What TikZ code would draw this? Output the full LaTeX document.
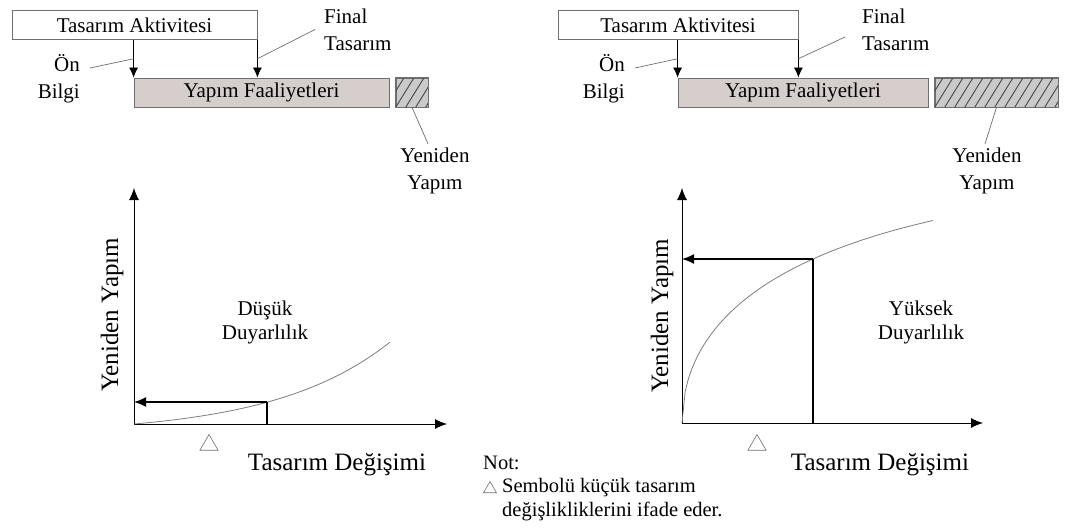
\documentclass[tikz,border=0pt]{standalone}
\usepackage{fontspec}
\setmainfont{Liberation Serif}
\usepackage{tikz}
\usetikzlibrary{shapes.geometric}
\usetikzlibrary{arrows.meta}
\usetikzlibrary{positioning}
\definecolor{boxline}{RGB}{110,110,110}
\definecolor{buildfill}{RGB}{214,206,204}
\definecolor{hatchfill}{RGB}{202,202,202}
\definecolor{hatchline}{RGB}{70,70,70}
\definecolor{curvecol}{RGB}{125,125,125}
\tikzstyle{tag} = [inner sep=0pt, font=\fontsize{21}{27}\selectfont]
\tikzstyle{every bar} = [draw=boxline, line width=0.8pt, minimum height=29pt, inner sep=0pt, font=\fontsize{21}{27}\selectfont]
\tikzstyle{activity} = [rectangle, fill=white, every bar]
\tikzstyle{building} = [rectangle, fill=buildfill, every bar]
\tikzstyle{rework} = [rectangle, fill=hatchfill, every bar]
\tikzstyle{hatch} = [draw=hatchline, line width=0.9pt]
\tikzstyle{flow} = [draw, line width=0.8pt, -{Latex[length=10pt,width=9pt]}]
\tikzstyle{leader} = [draw=boxline, line width=0.7pt]
\tikzstyle{axis} = [draw, line width=0.9pt, -{Latex[length=12pt,width=10pt]}]
\tikzstyle{readoff} = [draw, line width=1.5pt, -{Latex[length=12pt,width=10pt]}]
\tikzstyle{guide} = [draw, line width=1.2pt]
\tikzstyle{curve} = [draw=curvecol, line width=0.8pt]
\tikzstyle{axis title} = [inner sep=0pt, font=\fontsize{25}{30}\selectfont]
\tikzstyle{zone} = [inner sep=0pt, align=center, font=\fontsize{21}{24}\selectfont]
\tikzstyle{marker} = [regular polygon, regular polygon sides=3, draw=boxline, line width=0.6pt, minimum size=21pt, inner sep=0pt]
\tikzstyle{note text} = [inner sep=0pt, font=\fontsize{20.5}{24}\selectfont]

\begin{document}
\begin{tikzpicture} [x=1pt, y=-1pt]

\useasboundingbox (0,0) rectangle (1074,532);

% Low sensitivity: schedule

\node[activity, minimum width=245pt] (designL) at (134.5,25) {Tasarım Aktivitesi};

\node[building, minimum width=255pt] (buildL) at (261.5,92.5) {Yapım Faaliyetleri};

\node[rework, minimum width=32pt] (reworkL) at (412,92.5) {};
\begin{scope}
\clip (reworkL.south west) rectangle (reworkL.north east);
\foreach \s in {-20,-10,...,40} \draw[hatch] ([xshift=\s pt]reworkL.south west) -- ++(18pt,29pt);
\end{scope}
\draw[draw=boxline, line width=0.8pt] (reworkL.south west) rectangle (reworkL.north east);

\draw[flow] (designL.south -| buildL.north west) -- coordinate[midway] (preArrL) (buildL.north west);
\draw[flow] (designL.south east) -- coordinate[midway] (finArrL) (designL.south east |- buildL.north);

\node[tag, align=right, anchor=east] (preL) at (80,79) {Ön\\Bilgi};
\node[tag, align=left, anchor=west] (finalL) at (324,29.5) {Final\\Tasarım};
\node[tag, align=center] (reyL) at (435,171) {Yeniden\\Yapım};

\draw[leader] ([xshift=10pt,yshift=11pt]preL.east) -- (preArrL);
\draw[leader] (finArrL) -- ([xshift=-9pt]finalL.west);
\draw[leader] (reworkL.south) -- ([xshift=-7pt,yshift=4pt]reyL.north);

% High sensitivity: schedule

\node[activity, minimum width=240pt] (designR) at (678,25) {Tasarım Aktivitesi};

\node[building, minimum width=250pt] (buildR) at (803,92.5) {Yapım Faaliyetleri};

\node[rework, minimum width=123pt] (reworkR) at (996.5,92.5) {};
\begin{scope}
\clip (reworkR.south west) rectangle (reworkR.north east);
\foreach \s in {-20,-10,...,130} \draw[hatch] ([xshift=\s pt]reworkR.south west) -- ++(18pt,29pt);
\end{scope}
\draw[draw=boxline, line width=0.8pt] (reworkR.south west) rectangle (reworkR.north east);

\draw[flow] (designR.south -| buildR.north west) -- coordinate[midway] (preArrR) (buildR.north west);
\draw[flow] (designR.south east) -- coordinate[midway] (finArrR) (designR.south east |- buildR.north);

\node[tag, align=right, anchor=east] (preR) at (625,79) {Ön\\Bilgi};
\node[tag, align=left, anchor=west] (finalR) at (862,29.5) {Final\\Tasarım};
\node[tag, align=center] (reyR) at (987,171) {Yeniden\\Yapım};

\draw[leader] ([xshift=10pt,yshift=11pt]preR.east) -- (preArrR);
\draw[leader] (finArrR) -- ([xshift=-17pt,yshift=-7.5pt]finalR.west);
\draw[leader] (reworkR.south) -- ([xshift=-2pt,yshift=4pt]reyR.north);

% Low sensitivity: curve

\coordinate (oL) at (134,424);
\coordinate (yL) at (134,188);
\coordinate (xL) at (447,424);
\coordinate (kL) at (267,402);

\draw[axis] (oL) -- (yL);
\draw[axis] (oL) -- (xL);
\draw[curve] plot[domain=0:1, samples=50] ({134+256*\x},{424-10.2*(exp(2.2*\x)-1)});
\draw[guide] (kL) -- (kL |- oL);
\draw[readoff] (kL) -- (oL |- kL);

\node[marker] (triL) at (209,445) {};
\node[axis title, rotate=90] (ytitleL) at (112,315) {Yeniden Yapım};
\node[axis title] (xtitleL) at (337,465) {Tasarım Değişimi};
\node[zone] (lowL) at (265,322) {Düşük\\Duyarlılık};

% High sensitivity: curve

\coordinate (oR) at (682,423);
\coordinate (yR) at (682,188);
\coordinate (xR) at (983,423);
\coordinate (kR) at (813,259);

\draw[axis] (oR) -- (yR);
\draw[axis] (oR) -- (xR);
\draw[curve] plot[domain=0:1, samples=80] ({682+251*\x},{423-(290.8*sqrt(\x)-88.3*\x)});
\draw[guide] (kR) -- (kR |- oR);
\draw[readoff] (kR) -- (oR |- kR);

\node[marker] (triR) at (757,445) {};
\node[axis title, rotate=90] (ytitleR) at (662,316) {Yeniden Yapım};
\node[axis title] (xtitleR) at (880,465) {Tasarım Değişimi};
\node[zone] (highR) at (921,322) {Yüksek\\Duyarlılık};

% Note

\node[note text, anchor=west] (notHead) at (483,463) {Not:};
\node[marker, minimum size=15pt] (triN) at (490,489) {};
\node[note text, align=left, anchor=west] (notBody) at (502,500) {Sembolü küçük tasarım\\değişlikliklerini ifade eder.};

\end{tikzpicture}
\end{document}
